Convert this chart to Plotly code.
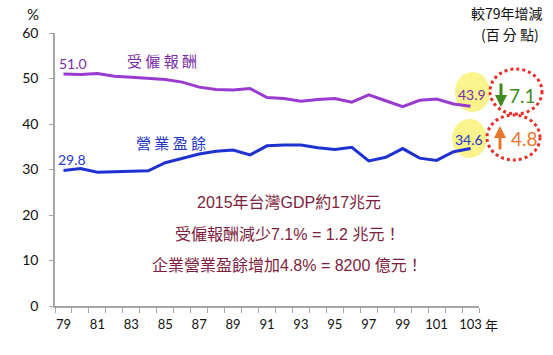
import plotly.graph_objects as go

years = list(range(79, 104))
compensation = [51.0, 50.9, 51.1, 50.5, 50.3, 50.1, 49.8, 49.2, 48.1, 47.6, 47.5, 47.8,
                45.8, 45.6, 45.0, 45.4, 45.6, 44.8, 46.4, 45.1, 43.8, 45.2, 45.5, 44.4, 43.9]
surplus = [29.8, 30.2, 29.4, 29.5, 29.7, 29.7, 31.5, 32.4, 33.4, 34.0, 34.3, 33.2,
           35.2, 35.4, 35.4, 34.8, 34.4, 34.9, 31.9, 32.7, 34.6, 32.5, 32.0, 33.9, 34.6]
x_tick_vals = list(range(79, 104, 2))
x_tick_text = [str(v) for v in x_tick_vals]
y_tick_vals = [0, 10, 20, 30, 40, 50, 60]
change_comp = "7.1"
change_surplus = "4.8"
series_names = ["受僱報酬", "營業盈餘"]
notes = ["2015年台灣GDP約17兆元", "受僱報酬減少7.1% = 1.2 兆元！", "企業營業盈餘增加4.8% = 8200 億元！"]

W, H = 553, 355
L, R, T, B = 55, 74, 33, 49
PW, PH = W - L - R, H - T - B

def px(x):
    return (x - L) / PW

def py(y):
    return (H - B - y) / PH

PURPLE = "#9A3BD0"
PURPLE_T = "#7A2EA8"
BLUE = "#1E32D2"
BLUE_T = "#2436C8"
MAROON = "#7E1E40"
CJK = "Noto Sans CJK TC"
LAT = "Lato, Noto Sans CJK TC"

fig = go.Figure()
fig.add_trace(go.Scatter(x=years, y=compensation, mode="lines",
                         line=dict(color=PURPLE, width=3), name=series_names[0]))
fig.add_trace(go.Scatter(x=years, y=surplus, mode="lines",
                         line=dict(color=BLUE, width=3), name=series_names[1]))

shapes = []
shapes.append(dict(type="circle", xref="paper", yref="paper", layer="below",
                   x0=px(455), x1=px(490), y0=py(72), y1=py(112),
                   fillcolor="#FBF38C", line=dict(width=0)))
shapes.append(dict(type="circle", xref="paper", yref="paper", layer="below",
                   x0=px(452), x1=px(487), y0=py(119), y1=py(158),
                   fillcolor="#FBF38C", line=dict(width=0)))
shapes.append(dict(type="circle", xref="paper", yref="paper",
                   x0=px(490), x1=px(542), y0=py(69), y1=py(114),
                   line=dict(color="#E8302A", width=3, dash="dot")))
shapes.append(dict(type="circle", xref="paper", yref="paper",
                   x0=px(487), x1=px(540), y0=py(115), y1=py(160),
                   line=dict(color="#E8302A", width=3, dash="dot")))

ann = []
def text(x, y, s, size, color, family=CJK, xanchor="center"):
    ann.append(dict(xref="paper", yref="paper", x=px(x), y=py(y), text=s, showarrow=False,
                    font=dict(size=size, color=color, family=family),
                    xanchor=xanchor, yanchor="middle"))

text(33, 14, "%", 15, "#111", LAT)
text(507, 13, "較79年增減", 14, "#111", CJK)
text(510, 34, "(百 分 點)", 14, "#111", CJK)
text(73, 63, f"{compensation[0]:.1f}", 14, PURPLE_T, LAT)
text(72, 159, f"{surplus[0]:.1f}", 14, BLUE_T, LAT)
text(162, 60, " ".join(series_names[0]), 15, PURPLE_T, CJK)
text(171, 142, " ".join(series_names[1]), 15, BLUE_T, CJK)
text(472, 94, f"{compensation[-1]:.1f}", 14, PURPLE_T, LAT)
text(469, 139, f"{surplus[-1]:.1f}", 14, BLUE_T, LAT)
text(522, 96, change_comp, 19, "#3E8A1E", LAT)
text(524, 138, change_surplus, 19, "#E8772A", LAT)
text(289, 202, notes[0], 16, MAROON, "Liberation Sans, Noto Sans CJK TC")
text(287, 234, notes[1], 16, MAROON, "Liberation Sans, Noto Sans CJK TC")
text(287, 265, notes[2], 16, MAROON, "Liberation Sans, Noto Sans CJK TC")
text(483, 324, "年", 13, "#111", CJK, xanchor="left")

ann.append(dict(xref="paper", yref="paper", x=px(501), y=py(107), ax=0, ay=-25,
                showarrow=True, arrowhead=2, arrowsize=0.8, arrowwidth=3,
                arrowcolor="#3E8A1E", text=""))
ann.append(dict(xref="paper", yref="paper", x=px(500), y=py(126), ax=0, ay=25,
                showarrow=True, arrowhead=2, arrowsize=0.8, arrowwidth=3,
                arrowcolor="#E8772A", text=""))

fig.update_layout(
    width=W, height=H, margin=dict(l=L, r=R, t=T, b=B),
    paper_bgcolor="white", plot_bgcolor="rgba(0,0,0,0)",
    showlegend=False, shapes=shapes, annotations=ann,
    xaxis=dict(range=[78.5, 103.5], tickvals=x_tick_vals, ticktext=x_tick_text,
               ticks="", showgrid=False, zeroline=False,
               showline=True, linecolor="#A6A6A6", linewidth=1.5,
               tickfont=dict(size=13, color="#111", family=LAT), ticklabelstandoff=6,
               minor=dict(tickmode="linear", tick0=78.5, dtick=1, ticks="outside",
                          ticklen=5, tickcolor="#A6A6A6", tickwidth=1, showgrid=False)),
    yaxis=dict(range=[0, 60], tickvals=y_tick_vals, ticks="outside", ticklen=4,
               tickcolor="#A6A6A6", showgrid=False, zeroline=False,
               showline=True, linecolor="#A6A6A6", linewidth=1.5,
               tickfont=dict(size=14, color="#111", family=LAT), ticklabelstandoff=8),
)

fig.write_html("out.html", config={"displayModeBar": False},
               post_script="document.body.style.margin='0';document.body.style.overflow='hidden';")
